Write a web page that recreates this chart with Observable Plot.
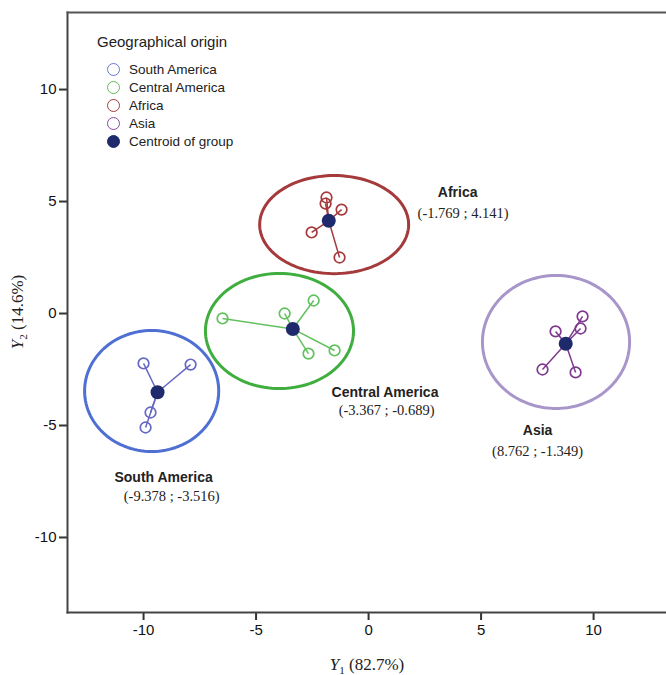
<!DOCTYPE html>
<html>
<head>
<meta charset="utf-8">
<script src="https://cdn.jsdelivr.net/npm/d3@7"></script>
<script src="https://cdn.jsdelivr.net/npm/@observablehq/plot@0.6"></script>
<style>
  body { margin: 0; background: #fff; }
  #wrap { position: relative; width: 666px; height: 675px; overflow: hidden; }
  #legend { position: absolute; left: 97px; top: 33px; font-family: "Liberation Sans", Arial, sans-serif; color: #222; }
  #legend .title { font-size: 15px; height: 18px; line-height: 18px; margin-bottom: 10px; }
  #legend .item { display: flex; align-items: center; height: 17.9px; font-size: 13.5px; margin-left: 10px; }
  #legend .sym { width: 13px; height: 13px; border-radius: 50%; box-sizing: border-box; margin-right: 9px; }
</style>
</head>
<body>
<div id="wrap"></div>
<script>
// ---- data ----
const groups = ["South America", "Central America", "Africa", "Asia"];
const centroidX = [-9.378, -3.367, -1.769, 8.762];
const centroidY = [-3.516, -0.689, 4.141, -1.349];
const centroidLabels = ["(-9.378 ; -3.516)", "(-3.367 ; -0.689)", "(-1.769 ; 4.141)", "(8.762 ; -1.349)"];

const pointGroup = [
  "South America", "South America", "South America", "South America",
  "Central America", "Central America", "Central America", "Central America", "Central America",
  "Africa", "Africa", "Africa", "Africa", "Africa",
  "Asia", "Asia", "Asia", "Asia", "Asia"
];
const pointX = [-10.0, -7.91, -9.69, -9.91,  -6.49, -3.73, -2.44, -2.67, -1.51,  -1.87, -1.91, -1.20, -2.53, -1.29,  9.51, 9.42, 8.31, 7.73, 9.20];
const pointY = [-2.23, -2.28, -4.42, -5.09,  -0.22, 0.0, 0.58, -1.79, -1.65,  5.18, 4.91, 4.64, 3.62, 2.50,  -0.13, -0.67, -0.80, -2.50, -2.63];

// group ellipses (centre and semi-axes, data units)
const ellipseX = [-9.64, -3.96, -1.53, 8.33];
const ellipseY = [-3.46, -0.78, 3.97, -1.27];
const ellipseRX = [2.98, 3.29, 3.31, 3.27];
const ellipseRY = [2.70, 2.57, 2.19, 2.97];

// label anchor positions (data units)
const labelX = [-9.11, 0.73, 3.96, 7.51];
const labelY = [-7.32, -3.52, 5.40, -5.22];
const coordX = [-8.75, 0.8, 4.2, 7.51];
const coordY = [-8.16, -4.33, 4.48, -6.14];

const xTicks = [-10, -5, 0, 5, 10];
const yTicks = [-10, -5, 0, 5, 10];

// ---- styles ----
const ellipseColor = {"South America": "#4f70d2", "Central America": "#3fae3f", "Africa": "#a53a3c", "Asia": "#a895c9"};
const pointColor = {"South America": "#6668c4", "Central America": "#62c05e", "Africa": "#a53a3c", "Asia": "#7e3a8e"};
const centroidColor = "#1e2a6c";

// ---- build tables ----
const points = pointX.map((x, i) => {
  const g = groups.indexOf(pointGroup[i]);
  return {group: pointGroup[i], x, y: pointY[i], cx: centroidX[g], cy: centroidY[g]};
});
const centroids = groups.map((g, i) => ({group: g, x: centroidX[i], y: centroidY[i], label: centroidLabels[i], lx: labelX[i], ly: labelY[i], kx: coordX[i], ky: coordY[i]}));
const ellipsePts = [];
groups.forEach((g, i) => {
  for (let k = 0; k <= 120; k++) {
    const t = (k / 120) * 2 * Math.PI;
    ellipsePts.push({group: g, x: ellipseX[i] + ellipseRX[i] * Math.cos(t), y: ellipseY[i] + ellipseRY[i] * Math.sin(t)});
  }
});

const sans = "'Liberation Sans', Arial, sans-serif";
const serif = "'Liberation Serif', 'Times New Roman', serif";

const chart = Plot.plot({
  width: 666,
  height: 675,
  marginLeft: 67,
  marginRight: 0,
  marginTop: 12,
  marginBottom: 63,
  style: {fontFamily: sans, fontSize: "14px", color: "#222", background: "#fff"},
  x: {domain: [-13.38, 13.24], ticks: xTicks, tickSize: 8, label: null, tickFormat: d => String(d)},
  y: {domain: [-13.35, 13.44], ticks: yTicks, tickSize: 8, label: null, tickFormat: d => String(d)},
  marks: [
    Plot.line(ellipsePts, {x: "x", y: "y", z: "group", stroke: d => ellipseColor[d.group], strokeWidth: 3, curve: "linear-closed"}),
    Plot.link(points, {x1: "cx", y1: "cy", x2: "x", y2: "y", stroke: d => pointColor[d.group], strokeWidth: 1.5}),
    Plot.dot(points, {x: "x", y: "y", r: 5.3, stroke: d => pointColor[d.group], strokeWidth: 1.7, fill: "none"}),
    Plot.dot(centroids, {x: "x", y: "y", r: 7, fill: centroidColor}),
    Plot.text(centroids, {x: "lx", y: "ly", text: "group", fontWeight: "bold", fontSize: 14, fontFamily: sans, fill: "#222"}),
    Plot.text(centroids, {x: "kx", y: "ky", text: "label", fontSize: 14.5, fontFamily: serif, fill: "#222"}),
    Plot.axisX({ticks: xTicks, tickSize: 8, tickPadding: 4, tickFormat: d => String(d), fontSize: 15, stroke: "#333", strokeWidth: 2, fill: "#111", label: null}),
    Plot.axisY({ticks: yTicks, tickSize: 8, tickFormat: d => String(d), fontSize: 15, stroke: "#333", strokeWidth: 2, fill: "#111", label: null}),
    Plot.frame({anchor: "left", stroke: "#444", strokeWidth: 2}),
    Plot.frame({anchor: "bottom", stroke: "#444", strokeWidth: 2}),
    Plot.frame({anchor: "top", stroke: "#555", strokeWidth: 2})
  ]
});

const wrap = document.getElementById("wrap");
wrap.appendChild(chart);

// axis titles (serif, with subscripts)
const ns = "http://www.w3.org/2000/svg";
function axisTitle(sub, pct, x, y, rotate) {
  const t = document.createElementNS(ns, "text");
  t.setAttribute("font-family", serif);
  t.setAttribute("font-size", "17");
  t.setAttribute("fill", "#222");
  t.setAttribute("text-anchor", "middle");
  t.setAttribute("transform", `translate(${x},${y})` + (rotate ? " rotate(-90)" : ""));
  t.innerHTML = `<tspan font-style="italic">Y</tspan><tspan font-size="11" dy="4">${sub}</tspan><tspan dy="-4"> (${pct})</tspan>`;
  chart.appendChild(t);
}
axisTitle("1", "82.7%", 367, 670, false);
axisTitle("2", "14.6%", 23, 312, true);

// legend
const legendItems = [
  {label: "South America", stroke: "#6a78cf", fill: "none"},
  {label: "Central America", stroke: "#62c05e", fill: "none"},
  {label: "Africa", stroke: "#a53a3c", fill: "none"},
  {label: "Asia", stroke: "#8a4a9c", fill: "none"},
  {label: "Centroid of group", stroke: centroidColor, fill: centroidColor}
];
const lg = document.createElement("div");
lg.id = "legend";
lg.innerHTML = `<div class="title">Geographical origin</div>` + legendItems.map(d =>
  `<div class="item"><span class="sym" style="border:1.6px solid ${d.stroke};background:${d.fill === "none" ? "transparent" : d.fill}"></span>${d.label}</div>`
).join("");
wrap.appendChild(lg);
</script>
</body>
</html>
